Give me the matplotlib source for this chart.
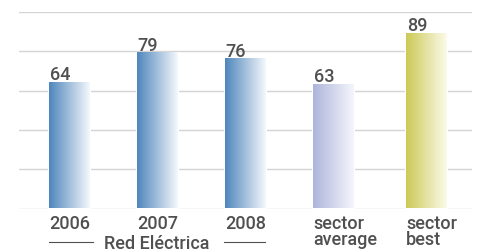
import numpy as np
import matplotlib
matplotlib.use('agg')
import matplotlib.pyplot as plt
from matplotlib.colors import LinearSegmentedColormap
import matplotlib.transforms as mtransforms

## data
categories = ["2006", "2007", "2008", "sector\naverage", "sector\nbest"]
values = [64, 79, 76, 63, 89]
group_label = "Red Eléctrica"

## styles
left_colors = ["#4f86bc", "#4f86bc", "#4f86bc", "#aeb5db", "#cdc957"]
right_colors = ["#f5f8fc", "#f5f8fc", "#f5f8fc", "#f5f6fc", "#fbfbea"]
text_col = "#505050"
grid_col = "#d4d4d4"
fs = 13

plt.rcParams['font.family'] = ['Roboto', 'DejaVu Sans']

fig = plt.figure(figsize=(4.79, 2.52), dpi=100)
ax = fig.add_axes([19/479, (252-208.5)/252, 453/479, (208.5-12)/252])

x = np.arange(len(values), dtype=float)
x[-1] += 0.06   # last bar sits a bit further out
w = 0.455

for yv in range(0, 101, 20):
    ax.axhline(yv, color=grid_col, lw=1.0, zorder=1)

# white bar under gradient to cut the grid lines
bars = ax.bar(x, values, width=w, color='white', edgecolor='white', linewidth=2.2, zorder=2)

grad = np.linspace(0, 1, 256).reshape(1, -1)
for b, c0, c1 in zip(bars, left_colors, right_colors):
    cmap = LinearSegmentedColormap.from_list('g', [c0, c1])
    bx, by = b.get_x(), b.get_y()
    ax.imshow(grad, cmap=cmap, aspect='auto', extent=[bx, bx + b.get_width(), by, by + b.get_height()],
              zorder=3, interpolation='bilinear')

for xi, v in zip(x, values):
    ax.annotate(str(v), (xi - w/2, v), xytext=(0.5, 1.8), textcoords='offset points',
                ha='left', va='baseline', fontsize=fs, fontweight='medium', color=text_col)

ax.set_xlim(-0.568, 4.58)
ax.set_ylim(0, 100)

ax.set_xticks(x - w/2)
ax.set_xticklabels(categories, ha='left', va='top', fontsize=fs, fontweight='medium',
                   color=text_col, linespacing=0.85)
ax.tick_params(axis='x', length=0, pad=5)
ax.set_yticks([])
for s in ax.spines.values():
    s.set_visible(False)

# group label with side rules
trans = mtransforms.blended_transform_factory(ax.transData, ax.transAxes)
ax.text(x[1], -0.18, group_label, transform=trans, ha='center', va='center',
        fontsize=fs, fontweight='medium', color=text_col)
ax.plot([x[0] - w/2, x[0] + 0.27], [-0.172, -0.172], transform=trans, color=text_col,
        lw=0.8, clip_on=False)
ax.plot([x[2] - 0.24, x[2] + w/2], [-0.172, -0.172], transform=trans, color=text_col,
        lw=0.8, clip_on=False)

fig.savefig('out.png', dpi=100)
